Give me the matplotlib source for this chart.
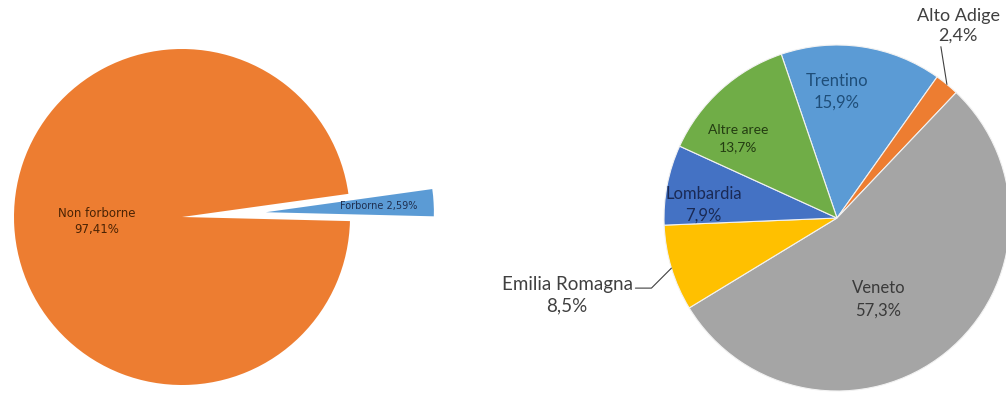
import matplotlib.pyplot as plt
import numpy as np

# Forborne share (left pie)
forb_labels = ['Forborne', 'Non forborne']
forb_values = [2.59, 97.41]
forb_colors = ['#5B9BD5', '#ED7D31']

# Origin areas (right pie), clockwise from the top
area_labels = ['Trentino', 'Alto Adige', 'Veneto', 'Emilia Romagna', 'Lombardia', 'Altre aree']
area_values = [15.9, 2.4, 57.3, 8.5, 7.9, 13.7]
area_colors = ['#5B9BD5', '#ED7D31', '#A5A5A5', '#FFC000', '#4472C4', '#70AD47']


def pct(v, nd):
    return f'{v:.{nd}f}'.replace('.', ',') + '%'


def mid_dir(w):
    a = np.deg2rad((w.theta1 + w.theta2) / 2)
    return np.cos(a), np.sin(a)


fig = plt.figure(figsize=(10.06, 3.94), dpi=100)
W, H = 1006, 394

# ---- left pie ----
r1, cx1, cy1 = 168, 182, 394 - 217
ax1 = fig.add_axes([0, 0, 460 / W, 1])
wedges1, _ = ax1.pie(forb_values, colors=forb_colors, startangle=-1.4,
                     explode=[0.5, 0], radius=1)
ax1.set_xlim(-cx1 / r1, (460 - cx1) / r1)
ax1.set_ylim(-cy1 / r1, (H - cy1) / r1)

# label inside the exploded slice
w = wedges1[0]
dx, dy = mid_dir(w)
ax1.text(w.center[0] + 0.67 * dx, w.center[1] + 0.67 * dy,
         f'{forb_labels[0]} {pct(forb_values[0], 2)}',
         ha='center', va='center', fontsize=7, color='#1f2f4f')
w = wedges1[1]
dx, dy = mid_dir(w)
ax1.text(0.51 * dx, 0.51 * dy, f'{forb_labels[1]}\n{pct(forb_values[1], 2)}',
         ha='center', va='center', fontsize=8.5, color='#4a2304',
         linespacing=1.3)

# ---- right pie ----
r2, cx2, cy2 = 173, 837, 394 - 218
ax2 = fig.add_axes([470 / W, 0, (W - 470) / W, 1])
wedges2, _ = ax2.pie(area_values, colors=area_colors, startangle=108.8,
                     counterclock=False, radius=1,
                     wedgeprops=dict(edgecolor='#f2f2f2', linewidth=0.8))
ax2.set_xlim((470 - cx2) / r2, (W - cx2) / r2)
ax2.set_ylim(-cy2 / r2, (H - cy2) / r2)

inside = {
    'Trentino': ((0.0, 0.73), 12, '#1F4E79'),
    'Altre aree': ((-0.57, 0.46), 10, '#243d12'),
    'Lombardia': ((-0.77, 0.075), 12, '#1a2a55'),
    'Veneto': ((0.24, -0.47), 12, '#3a3a3a'),
}
for name, val in zip(area_labels, area_values):
    if name in inside:
        (x, y), fs, col = inside[name]
        ax2.text(x, y, f'{name}\n{pct(val, 1)}', ha='center', va='center',
                 fontsize=fs, color=col, family='Lato', linespacing=1.45)

# outside labels with leader lines
i = area_labels.index('Alto Adige')
dx, dy = mid_dir(wedges2[i])
ax2.annotate(f'{area_labels[i]}\n{pct(area_values[i], 1)}', xy=(dx, dy),
             xytext=(0.70, 1.11), ha='center', va='center', fontsize=13,
             color='#404040', family='Lato', linespacing=1.3,
             arrowprops=dict(arrowstyle='-', color='#404040', lw=0.8,
                             shrinkA=0, shrinkB=0, relpos=(0.27, 0.25)))

i = area_labels.index('Emilia Romagna')
dx, dy = mid_dir(wedges2[i])
ax2.annotate(f'{area_labels[i]}\n{pct(area_values[i], 1)}', xy=(dx, dy),
             xytext=(-1.56, -0.445), ha='center', va='center', fontsize=13.5,
             color='#404040', family='Lato', linespacing=1.3,
             arrowprops=dict(arrowstyle='-', color='#404040', lw=0.8,
                             shrinkA=0, shrinkB=0, relpos=(1.0, 0.68),
                             connectionstyle='angle,angleA=0,angleB=45,rad=0'))

fig.savefig('out.png', dpi=100, facecolor='white')
